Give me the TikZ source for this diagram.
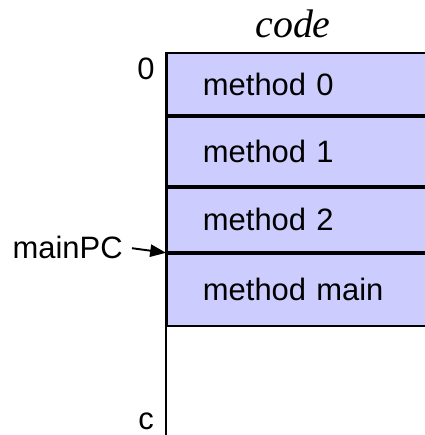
\documentclass[tikz,border=0pt]{standalone}
\usepackage{fontspec}
\setmainfont{Liberation Sans}
\newfontfamily\titlefont{Liberation Serif}
\usepackage{xcolor}
\usepackage{tikz}
\usetikzlibrary{arrows.meta, positioning}

\definecolor{codefill}{RGB}{204,204,255}

\begin{document}
\begin{tikzpicture}[node distance=0cm,
    every node/.style={font=\fontsize{17.6pt}{20pt}\selectfont},
    row/.style={rectangle, draw=black, line width=1.1pt, fill=codefill, anchor=north west, minimum width=5.48cm, text width=4.04cm, inner xsep=0.72cm, inner ysep=0pt, align=left},
    addr/.style={inner sep=0pt},
    pointer/.style={-{Triangle[length=9pt, width=7pt]}, line width=1.1pt},
]
\useasboundingbox (0,0) rectangle (8.5,-8.7);
\clip (0,0) rectangle (8.5,-8.7);

\node[font=\fontsize{22.7pt}{26pt}\titlefont\itshape, anchor=base] (title) at (5.86,-0.76) {code};

\node[row, minimum height=1.24cm] (m0) at (3.32,-1.04) {method 0};
\node[row, minimum height=1.38cm, below=of m0.south west, anchor=north west] (m1) {method 1};
\node[row, minimum height=1.28cm, below=of m1.south west, anchor=north west] (m2) {method 2};
\node[row, minimum height=1.44cm, below=of m2.south west, anchor=north west] (mmain) {method main};

\coordinate (axisend) at (3.32,-8.9);

\node[addr] (zero) at (2.92,-1.38) {0};
\node[addr] (cend) at (2.92,-8.42) {c};
\node[addr, anchor=east] (mainpc) at (2.46,-4.94) {mainPC};

\draw[line width=1.1pt] (m0.north west) -- (axisend);
\draw[pointer, shorten <=0.18cm] (mainpc.east) -- (mmain.north west);

\end{tikzpicture}
\end{document}
